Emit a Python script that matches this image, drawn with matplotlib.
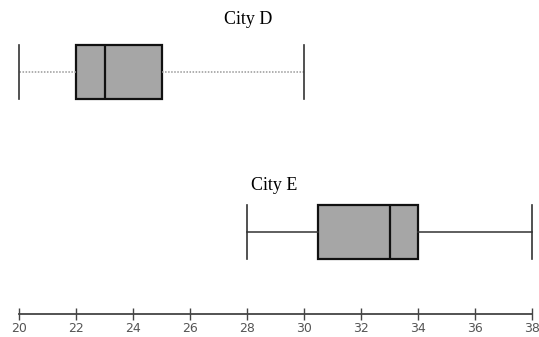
import matplotlib
matplotlib.use("Agg")
import matplotlib.pyplot as plt

cities = ["City D", "City E"]
mins = [20, 28]
q1s = [22, 30.5]
medians = [23, 33]
q3s = [25, 34]
maxs = [30, 38]
ticks = list(range(20, 39, 2))

fig = plt.figure(figsize=(5.39, 3.37), dpi=100)
# axes in pixel-like y units, bottom spine acts as number line
ax = fig.add_axes([0, 23 / 337, 1, 314 / 337])
ax.set_xlim(20 - 19 / 28.5, 38 + 7 / 28.5)
ax.set_ylim(314, 0)

stats = []
for i in range(len(cities)):
    stats.append(dict(label=cities[i], whislo=mins[i], q1=q1s[i], med=medians[i],
                      q3=q3s[i], whishi=maxs[i], fliers=[]))

res = ax.bxp(stats, positions=[72, 232], widths=54, capwidths=[54, 54],
             orientation="horizontal", showfliers=False, patch_artist=True, manage_ticks=False,
             boxprops=dict(facecolor="#a6a6a6", edgecolor="#111111", linewidth=1.6),
             medianprops=dict(color="#111111", linewidth=1.6),
             capprops=dict(color="#333333", linewidth=1.2),
             whiskerprops=dict(color="#333333", linewidth=1.1))

# City D whiskers are faint and dotted in the reference
for w in res["whiskers"][:2]:
    w.set_color("#999999")
    w.set_linestyle((0, (1, 1)))

ax.text(28.04, 20, cities[0], ha="center", va="center", fontsize=13, family="Liberation Serif")
ax.text(28.95, 185, cities[1], ha="center", va="center", fontsize=13, family="Liberation Serif")

for s in ["top", "left", "right"]:
    ax.spines[s].set_visible(False)
ax.spines["bottom"].set_color("#444444")
ax.spines["bottom"].set_linewidth(1.3)
ax.spines["bottom"].set_bounds(20, 38)
ax.set_yticks([])
ax.set_xticks(ticks)
ax.tick_params(axis="x", direction="inout", length=8, width=1, color="#444444",
               labelsize=9, labelcolor="#555555", pad=2)

fig.savefig("out.png", dpi=100)
